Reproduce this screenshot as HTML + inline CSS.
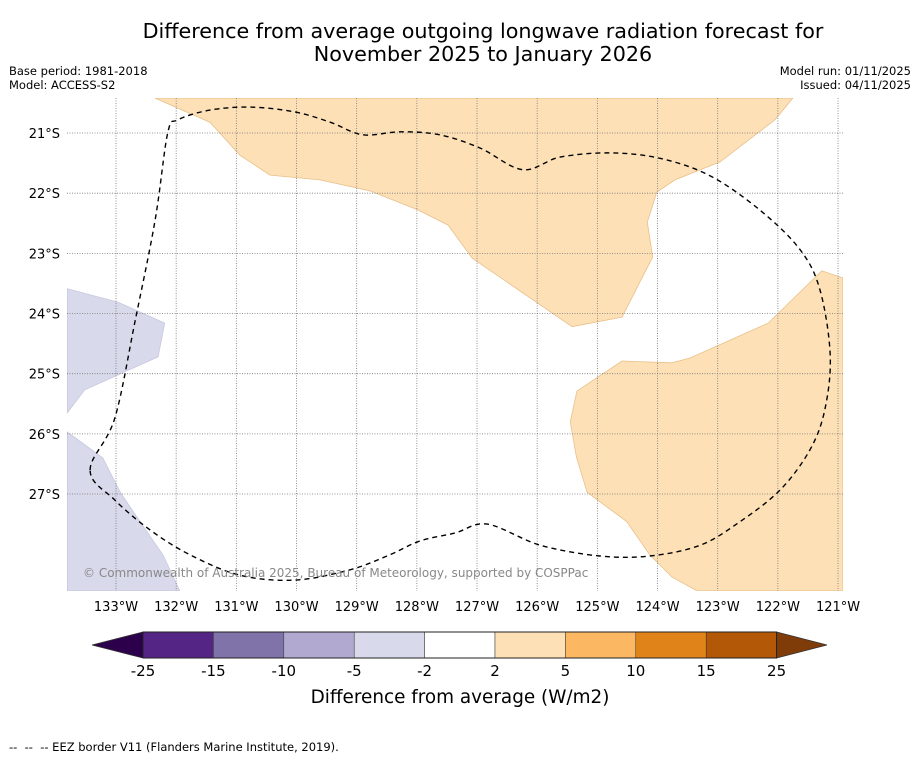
<!DOCTYPE html>
<html><head><meta charset="utf-8"><style>
body{margin:0;background:#fff;font-family:"Liberation Sans","DejaVu Sans",sans-serif}
svg text{font-family:"DejaVu Sans","Liberation Sans",sans-serif}
</style></head><body>
<svg id="c" width="919" height="758" xmlns="http://www.w3.org/2000/svg">
<rect width="919" height="758" fill="#fff"/>
<text x="483" y="38" text-anchor="middle" font-size="20.7">Difference from average outgoing longwave radiation forecast for</text>
<text x="483" y="61" text-anchor="middle" font-size="20.7">November 2025 to January 2026</text>
<text x="9" y="75" font-size="11.5">Base period: 1981-2018</text>
<text x="9" y="89" font-size="11.5">Model: ACCESS-S2</text>
<text x="911" y="75" text-anchor="end" font-size="11.5">Model run: 01/11/2025</text>
<text x="911" y="89" text-anchor="end" font-size="11.5">Issued: 04/11/2025</text>
<defs><clipPath id="mc"><rect x="67" y="98" width="776" height="493"/></clipPath></defs>
<g id="map" clip-path="url(#mc)"></g>
<g id="grid"></g>
<g id="eez" clip-path="url(#mc)"></g>
<g id="axes"></g>
<text x="83" y="577" font-size="12" fill="#888">© Commonwealth of Australia 2025, Bureau of Meteorology, supported by COSPPac</text>
<g id="cbar"></g>
<text x="460" y="703" text-anchor="middle" font-size="18.4">Difference from average (W/m2)</text>
<text x="9" y="751" font-size="11.5" xml:space="preserve" style="white-space:pre">--  --  -- EEZ border V11 (Flanders Marine Institute, 2019).</text>
</svg>
<script>
const lonTicks=[-133,-132,-131,-130,-129,-128,-127,-126,-125,-124,-123,-122,-121];
const lonLabels=["133°W","132°W","131°W","130°W","129°W","128°W","127°W","126°W","125°W","124°W","123°W","122°W","121°W"];
const latTicks=[-21,-22,-23,-24,-25,-26,-27];
const latLabels=["21°S","22°S","23°S","24°S","25°S","26°S","27°S"];
const cbarBounds=[-25,-15,-10,-5,-2,2,5,10,15,25];
const cbarColors=["#552586","#7f73a9","#b1a9d0","#d8d9ea","#ffffff","#fde0b6","#fbb761","#e08419","#b35807"];
const cbarLow="#2d004b", cbarHigh="#7f3b08";
const orangeNorth={lon:[-132.35,-131.44,-130.94,-130.44,-129.61,-128.78,-127.98,-127.48,-127.08,-125.42,-124.59,-124.08,-124.17,-124.01,-123.71,-122.96,-122.05,-121.75],
lat:[-20.42,-20.82,-21.37,-21.70,-21.78,-21.96,-22.28,-22.53,-23.08,-24.22,-24.06,-23.06,-22.48,-21.98,-21.78,-21.48,-20.78,-20.42]};
const orangeEast={lon:[-120.92,-121.27,-122.16,-123.46,-123.76,-124.59,-125.34,-125.45,-125.35,-125.17,-124.51,-124.13,-123.76,-123.34,-120.92],
lat:[-23.41,-23.29,-24.16,-24.74,-24.82,-24.79,-25.29,-25.80,-26.38,-26.97,-27.46,-28.01,-28.38,-28.61,-28.61]};
const purpleA={lon:[-133.81,-132.97,-132.19,-132.30,-133.52,-133.81],lat:[-23.59,-23.81,-24.16,-24.72,-25.27,-25.65]};
const purpleB={lon:[-133.81,-133.22,-132.93,-132.60,-132.22,-131.94,-133.81],lat:[-25.97,-26.40,-26.97,-27.46,-28.01,-28.61,-28.61]};
const eezLon=[-133.43,-133.02,-132.68,-132.35,-132.14,-131.97,-131.44,-130.77,-130.03,-129.44,-128.90,-128.28,-127.62,-126.95,-126.24,-125.62,-124.79,-123.96,-123.13,-122.30,-121.63,-121.30,-121.13,-121.22,-121.47,-121.96,-122.63,-123.29,-124.13,-124.96,-125.95,-126.83,-127.37,-127.95,-128.45,-129.11,-130.03,-130.94,-131.77,-132.43,-133.02,-133.43];
const eezLat=[-26.60,-25.74,-24.11,-22.45,-21.00,-20.78,-20.62,-20.57,-20.65,-20.82,-21.03,-20.98,-21.03,-21.25,-21.61,-21.40,-21.33,-21.42,-21.71,-22.28,-22.94,-23.61,-24.69,-25.60,-26.27,-26.93,-27.46,-27.85,-28.03,-28.03,-27.85,-27.50,-27.65,-27.78,-28.01,-28.26,-28.43,-28.35,-28.01,-27.60,-27.10,-26.60];
const NS="http://www.w3.org/2000/svg";
const X=lon=>116+(lon+133)*60.17, Y=lat=>133+(-21-lat)*60.17;
function el(t,a,p){const e=document.createElementNS(NS,t);for(const k in a)e.setAttribute(k,a[k]);p.appendChild(e);return e;}
const map=document.getElementById('map');
function poly(d,fill,stroke,name){
  const e=el('polygon',{points:d.lon.map((v,i)=>X(v).toFixed(1)+','+Y(d.lat[i]).toFixed(1)).join(' '),fill:fill,stroke:stroke,'stroke-width':0.8},map);
  
  
}
poly(orangeNorth,'#fde0b6','#e8c08a','anomaly-region-north');
poly(orangeEast,'#fde0b6','#e8c08a','anomaly-region-east');
poly(purpleA,'#d8d9ea','#c8c8e0','anomaly-region-west-a');
poly(purpleB,'#d8d9ea','#c8c8e0','anomaly-region-west-b');
const grid=document.getElementById('grid'),axes=document.getElementById('axes');
lonTicks.forEach((v,i)=>{
  const g=el('line',{x1:X(v),x2:X(v),y1:98,y2:591,stroke:'#777','stroke-width':0.8,'stroke-dasharray':'1,1.5'},grid);
  
  
  const t=el('text',{x:X(v),y:611,'text-anchor':'middle','font-size':13},axes);t.textContent=lonLabels[i];
  
  
});
latTicks.forEach((v,i)=>{
  const g=el('line',{x1:67,x2:843,y1:Y(v),y2:Y(v),stroke:'#777','stroke-width':0.8,'stroke-dasharray':'1,1.5'},grid);
  
  
  const t=el('text',{x:60,y:Y(v)+5,'text-anchor':'end','font-size':13},axes);t.textContent=latLabels[i];
  
  
});
// smooth closed curve through EEZ points (Catmull-Rom)
const P=eezLon.slice(0,-1).map((v,i)=>[X(v),Y(eezLat[i])]);
const n=P.length;let d=`M${P[0][0].toFixed(1)},${P[0][1].toFixed(1)}`;
for(let i=0;i<n;i++){
  const p0=P[(i-1+n)%n],p1=P[i],p2=P[(i+1)%n],p3=P[(i+2)%n];
  const c1=[p1[0]+(p2[0]-p0[0])/6,p1[1]+(p2[1]-p0[1])/6],c2=[p2[0]-(p3[0]-p1[0])/6,p2[1]-(p3[1]-p1[1])/6];
  d+=` C${c1[0].toFixed(1)},${c1[1].toFixed(1)} ${c2[0].toFixed(1)},${c2[1].toFixed(1)} ${p2[0].toFixed(1)},${p2[1].toFixed(1)}`;
}
const eez=el('path',{d:d,fill:'none',stroke:'#000','stroke-width':1.4,'stroke-dasharray':'5,4'},document.getElementById('eez'));


const cb=document.getElementById('cbar');
const cx0=143,cw=70.4,cy=632,ch=26;
const tl=el('polygon',{points:`${cx0},${cy} ${cx0},${cy+ch} 92,${cy+ch/2}`,fill:cbarLow,stroke:'#333','stroke-width':0.8},cb);


cbarColors.forEach((c,i)=>{
  const r=el('rect',{x:cx0+i*cw,y:cy,width:cw,height:ch,fill:c,stroke:'#333','stroke-width':0.5},cb);
  
  
});
const xe=cx0+cbarColors.length*cw;
const tr=el('polygon',{points:`${xe},${cy} ${xe},${cy+ch} 827,${cy+ch/2}`,fill:cbarHigh,stroke:'#333','stroke-width':0.8},cb);


el('rect',{x:cx0,y:cy,width:xe-cx0,height:ch,fill:'none',stroke:'#222','stroke-width':1},cb);
cbarBounds.forEach((v,i)=>{
  const t=el('text',{x:cx0+i*cw,y:676,'text-anchor':'middle','font-size':15},cb);t.textContent=v;
  
  
});
</script>
</body></html>
